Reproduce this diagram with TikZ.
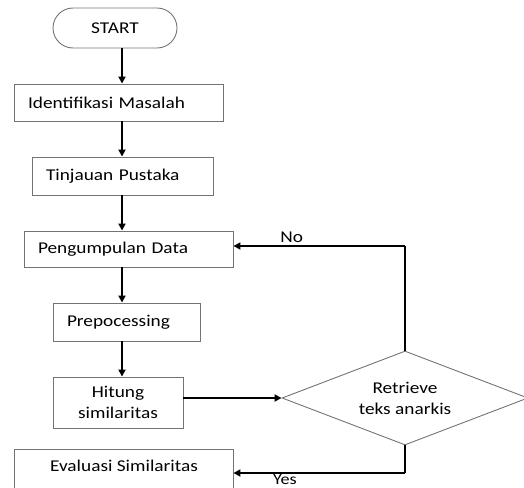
\documentclass[tikz,border=0pt]{standalone}
\usepackage{fontspec}
\setmainfont{Carlito}[FakeStretch=1.17]
\usetikzlibrary{shapes.geometric,arrows.meta}
\begin{document}
\begin{tikzpicture}[x=1pt,y=-1pt,
  every node/.style={font=\fontsize{16.5}{21}\selectfont},
  box/.style={draw=black!55, line width=0.9pt, rectangle, inner ysep=0pt},
  lbox/.style={box, align=left, inner xsep=14pt},
  cbox/.style={box, align=center, inner xsep=0pt},
  arr/.style={line width=1.8pt, -{Triangle[length=7pt,width=7pt]}},
  ln/.style={line width=1.8pt}]
\useasboundingbox (0,0) rectangle (524,487);
\node[box, rounded corners=20pt, minimum width=124pt, minimum height=40pt] (start) at (115,28) {START};
\node[lbox, text width=181pt, minimum height=37pt] (ident) at (118.5,102.5) {Identifikasi Masalah};
\node[lbox, text width=153pt, minimum height=38pt] (tinj) at (122.5,176) {Tinjauan Pustaka};
\node[lbox, text width=181pt, minimum height=36pt] (peng) at (128.5,249) {Pengumpulan Data};
\node[lbox, text width=119pt, minimum height=38pt] (prep) at (126.5,322) {Prepocessing};
\node[cbox, minimum width=130pt, minimum height=51pt] (hit) at (118,402.5) {Hitung\\similaritas};
\node[box, minimum width=219pt, minimum height=50pt, anchor=north] (eval) at (123.5,449) {};
\node (evaltext) at (124,466) {Evaluasi Similaritas};
\node[draw=black!55, line width=0.9pt, diamond, aspect=2.6, inner sep=0pt, minimum width=246pt, minimum height=94pt, align=center] (dia) at (405,398) {Retrieve\\teks anarkis};
\coordinate (ax) at (122,0);
\coordinate (noY) at (0,246);
\coordinate (yesY) at (0,473);
\draw[arr] (start.south -| ax) -- (ident.north -| ax);
\draw[arr] (ident.south -| ax) -- (tinj.north -| ax);
\draw[arr] (tinj.south -| ax) -- (peng.north -| ax);
\draw[arr] (peng.south -| ax) -- (prep.north -| ax);
\draw[arr] (prep.south -| ax) -- (hit.north -| ax);
\draw[arr] (hit.east |- dia.west) -- (dia.west);
\draw[ln] (dia.north) -- (dia.north |- noY);
\draw[arr] (dia.north |- noY) -- (peng.east |- noY) node[pos=0.66, above, inner sep=2pt] (no) {No};
\draw[ln] (dia.south) -- (dia.south |- yesY);
\draw[arr] (dia.south |- yesY) -- (eval.east |- yesY) node[pos=0.70, below, inner sep=0.3pt, font=\fontsize{15.5}{18}\selectfont] (yes) {Yes};
\end{tikzpicture}
\end{document}
